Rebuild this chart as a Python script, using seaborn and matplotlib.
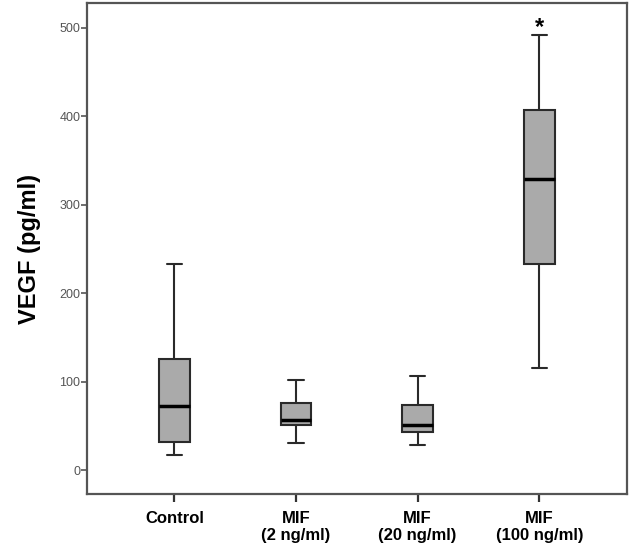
import pandas as pd
import seaborn as sns
from matplotlib import pyplot as plt

# five-number summaries (min, q1, median, q3, max)
groups = ['Control', 'MIF\n(2 ng/ml)', 'MIF\n(20 ng/ml)', 'MIF\n(100 ng/ml)']
control = [16.6, 32.0, 72.7, 125.5, 233.0]
mif_2 = [30.5, 50.9, 56.0, 75.7, 102.0]
mif_20 = [28.3, 42.6, 50.9, 73.5, 106.6]
mif_100 = [115.0, 233.0, 329.0, 406.9, 491.7]

data = []
for g, vals in zip(groups, [control, mif_2, mif_20, mif_100]):
    for v in vals:
        data.append({'group': g, 'vegf': v})
df = pd.DataFrame(data)

sns.set_style('ticks')
plt.rcParams['font.family'] = ['Liberation Sans', 'DejaVu Sans']

fig = plt.figure(figsize=(6.3, 5.57), dpi=100)
ax = fig.add_axes([0.1386, 0.1131, 0.9947 - 0.1386, 0.994 - 0.1131])

sns.boxplot(data=df, x='group', y='vegf', order=groups, ax=ax,
            color='#aaaaaa', saturation=1, width=0.25, whis=(0, 100),
            linecolor='#2a2a2a', linewidth=1.5,
            medianprops=dict(color='black', linewidth=2.5))

# significance marker above the 100 ng/ml group
ax.text(3, 500, '*', ha='center', va='center', fontsize=17,
        fontweight='bold', color='black')

ax.set_xlim(-0.716, 3.718)
ax.set_ylim(-27.1, 527.5)
ax.set_yticks([0, 100, 200, 300, 400, 500])
ax.set_xlabel('')
ax.set_ylabel('VEGF (pg/ml)', fontsize=17, fontweight='bold', color='black')
ax.yaxis.set_label_coords(-0.086, 0.5)

for s in ax.spines.values():
    s.set_visible(True)
    s.set_color('#555555')
    s.set_linewidth(1.6)

ax.tick_params(axis='y', labelsize=9, colors='#555555', length=4, width=1.2, pad=1)
ax.tick_params(axis='x', labelsize=12, length=6, width=1.6, color='#333333',
               labelcolor='black', pad=6)
for lab in ax.get_xticklabels():
    lab.set_fontweight('bold')

plt.savefig('out.png', dpi=100)
